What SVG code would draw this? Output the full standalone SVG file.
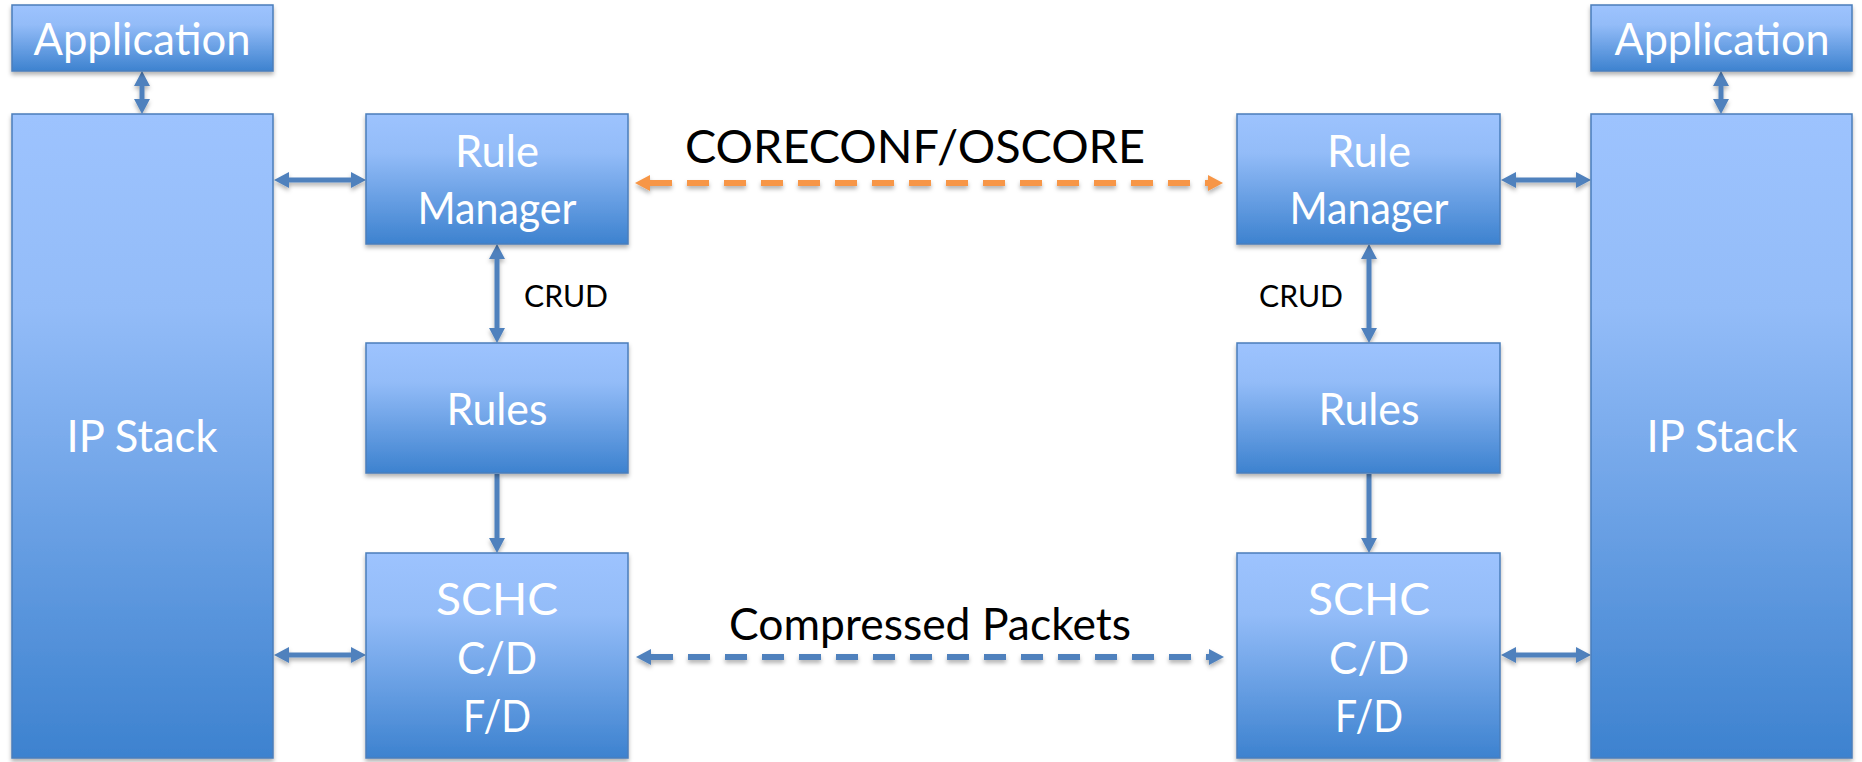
<svg xmlns="http://www.w3.org/2000/svg" width="1862" height="762" viewBox="0 0 1862 762">
<style>
.box{fill:url(#g);stroke:#4A7EBB;stroke-width:1.5;filter:url(#sh)}
.t{font-family:Lato,"Open Sans","Liberation Sans",sans-serif;font-size:45px;fill:#fff;text-anchor:middle}
.lbl{font-family:Lato,"Open Sans","Liberation Sans",sans-serif;fill:#000}
.a{stroke:#4F81BD;stroke-width:5;fill:none}
.d{stroke-width:6;fill:none;stroke-dasharray:22 15}
</style>
<defs>
<linearGradient id="g" x1="0" y1="0" x2="0" y2="1">
<stop offset="0" stop-color="#9DC3FE"/>
<stop offset="0.3" stop-color="#93BCF8"/>
<stop offset="1" stop-color="#3D82CF"/>
</linearGradient>
<filter id="sh" x="-10%" y="-10%" width="120%" height="130%">
<feDropShadow dx="0" dy="3" stdDeviation="2" flood-color="#000" flood-opacity="0.3"/>
</filter>
<filter id="sh2" filterUnits="userSpaceOnUse" x="0" y="0" width="1862" height="762">
<feDropShadow dx="0" dy="3" stdDeviation="2" flood-color="#000" flood-opacity="0.3"/>
</filter>
<marker id="hb" viewBox="0 0 15 16" markerWidth="15" markerHeight="16" refX="0" refY="8" orient="auto-start-reverse" markerUnits="userSpaceOnUse">
<path d="M0,0 L15,8 L0,16 z" fill="#4F81BD"/>
</marker>
<marker id="ho" viewBox="0 0 15 16" markerWidth="15" markerHeight="16" refX="0" refY="8" orient="auto-start-reverse" markerUnits="userSpaceOnUse">
<path d="M0,0 L15,8 L0,16 z" fill="#F79646"/>
</marker>
</defs>
<rect width="1862" height="762" fill="#fff"/>

<g id="connectors" filter="url(#sh2)">
<line class="a" x1="142" y1="86" x2="142" y2="99" marker-start="url(#hb)" marker-end="url(#hb)"/>
<line class="a" x1="1721" y1="86" x2="1721" y2="99" marker-start="url(#hb)" marker-end="url(#hb)"/>
<line class="a" x1="289" y1="180" x2="351" y2="180" marker-start="url(#hb)" marker-end="url(#hb)"/>
<line class="a" x1="289" y1="655" x2="351" y2="655" marker-start="url(#hb)" marker-end="url(#hb)"/>
<line class="a" x1="1516" y1="180" x2="1576" y2="180" marker-start="url(#hb)" marker-end="url(#hb)"/>
<line class="a" x1="1516" y1="655" x2="1576" y2="655" marker-start="url(#hb)" marker-end="url(#hb)"/>
<line class="a" x1="497" y1="259" x2="497" y2="328" marker-start="url(#hb)" marker-end="url(#hb)"/>
<line class="a" x1="1369" y1="259" x2="1369" y2="328" marker-start="url(#hb)" marker-end="url(#hb)"/>
<line class="a" x1="497" y1="474" x2="497" y2="538" marker-end="url(#hb)"/>
<line class="a" x1="1369" y1="474" x2="1369" y2="538" marker-end="url(#hb)"/>
<line class="d" stroke="#F79646" x1="650" y1="183" x2="1208" y2="183" marker-start="url(#ho)" marker-end="url(#ho)"/>
<line class="d" stroke="#4F81BD" x1="651" y1="657" x2="1209" y2="657" marker-start="url(#hb)" marker-end="url(#hb)"/>
</g>
<g id="labels">
<text class="lbl" x="915" y="163" font-size="46" text-anchor="middle" textLength="460" lengthAdjust="spacingAndGlyphs">CORECONF/OSCORE</text>
<text class="lbl" x="930" y="640" font-size="45" text-anchor="middle" textLength="402" lengthAdjust="spacingAndGlyphs">Compressed Packets</text>
<text class="lbl" x="524" y="307" font-size="30" textLength="84" lengthAdjust="spacingAndGlyphs">CRUD</text>
<text class="lbl" x="1259" y="307" font-size="30" textLength="84" lengthAdjust="spacingAndGlyphs">CRUD</text>
</g>

<g id="app-left">
<rect class="box" x="12" y="5" width="261" height="66"/>
<text class="t" x="142" y="55" textLength="217" lengthAdjust="spacingAndGlyphs">Application</text>
</g>
<g id="ipstack-left">
<rect class="box" x="12" y="114" width="261" height="644"/>
<text class="t" x="142" y="452" textLength="151" lengthAdjust="spacingAndGlyphs">IP Stack</text>
</g>
<g id="rulemanager-left">
<rect class="box" x="366" y="114" width="262" height="130"/>
<text class="t" x="497" y="167" textLength="84" lengthAdjust="spacingAndGlyphs">Rule</text>
<text class="t" x="497" y="224" textLength="159" lengthAdjust="spacingAndGlyphs">Manager</text>
</g>
<g id="rules-left">
<rect class="box" x="366" y="343" width="262" height="130"/>
<text class="t" x="497" y="425" textLength="101" lengthAdjust="spacingAndGlyphs">Rules</text>
</g>
<g id="schc-left">
<rect class="box" x="366" y="553" width="262" height="205"/>
<text class="t" x="497" y="615" textLength="122" lengthAdjust="spacingAndGlyphs">SCHC</text>
<text class="t" x="497" y="674" textLength="80" lengthAdjust="spacingAndGlyphs">C/D</text>
<text class="t" x="497" y="732" textLength="68" lengthAdjust="spacingAndGlyphs">F/D</text>
</g>

<g id="rulemanager-right">
<rect class="box" x="1237" y="114" width="263" height="130"/>
<text class="t" x="1369" y="167" textLength="84" lengthAdjust="spacingAndGlyphs">Rule</text>
<text class="t" x="1369" y="224" textLength="159" lengthAdjust="spacingAndGlyphs">Manager</text>
</g>
<g id="rules-right">
<rect class="box" x="1237" y="343" width="263" height="130"/>
<text class="t" x="1369" y="425" textLength="101" lengthAdjust="spacingAndGlyphs">Rules</text>
</g>
<g id="schc-right">
<rect class="box" x="1237" y="553" width="263" height="205"/>
<text class="t" x="1369" y="615" textLength="122" lengthAdjust="spacingAndGlyphs">SCHC</text>
<text class="t" x="1369" y="674" textLength="80" lengthAdjust="spacingAndGlyphs">C/D</text>
<text class="t" x="1369" y="732" textLength="68" lengthAdjust="spacingAndGlyphs">F/D</text>
</g>
<g id="app-right">
<rect class="box" x="1591" y="5" width="261" height="66"/>
<text class="t" x="1722" y="55" textLength="215" lengthAdjust="spacingAndGlyphs">Application</text>
</g>
<g id="ipstack-right">
<rect class="box" x="1591" y="114" width="261" height="644"/>
<text class="t" x="1722" y="452" textLength="151" lengthAdjust="spacingAndGlyphs">IP Stack</text>
</g>
</svg>
